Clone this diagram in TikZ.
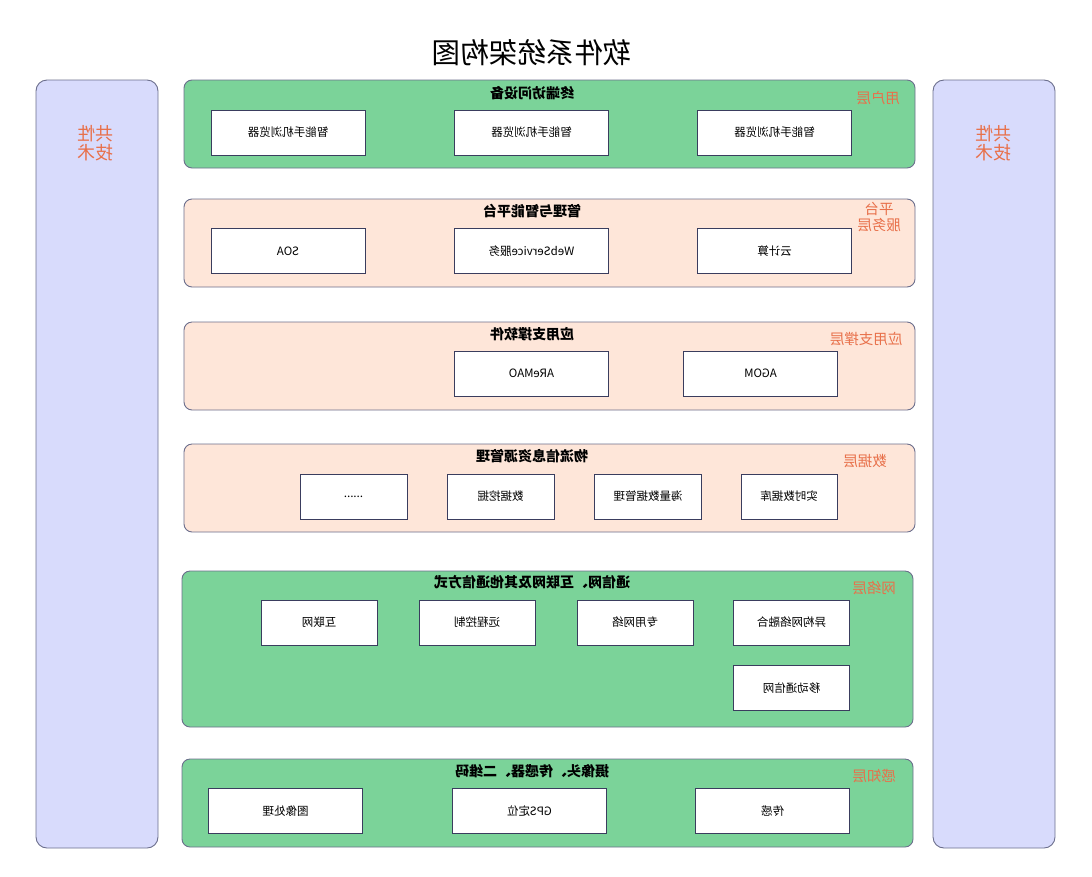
\documentclass[tikz,border=0pt]{standalone}
\usepackage{fontspec}
\setmainfont{Noto Sans CJK SC}
\usetikzlibrary{positioning}
\definecolor{laygreen}{HTML}{7BD399}
\definecolor{laypeach}{HTML}{FEE6D9}
\definecolor{sidelav}{HTML}{D8DBFC}
\definecolor{layline}{HTML}{6B6E8C}
\definecolor{itemline}{HTML}{3A3D5E}
\definecolor{tagorange}{HTML}{E8704A}

\begin{document}
\begin{tikzpicture}[x=1pt,y=-1pt,
    flip/.style={xscale=-1},
    layer/.style={draw=layline,line width=0.9pt,rounded corners=8pt},
    side/.style={draw=layline,line width=0.9pt,rounded corners=11pt,fill=sidelav},
    head/.style={flip,font=\fontsize{14}{16}\selectfont\bfseries},
    tag/.style={flip,text=tagorange,align=center,font=\fontsize{14.5}{16}\selectfont},
    item/.style={flip,draw=itemline,fill=white,line width=0.9pt,inner sep=0pt,
      minimum width=154,minimum height=45,font=\fontsize{11.5}{13}\selectfont}]
    \useasboundingbox (0,0) rectangle (1092,876);
    \node[flip,font=\fontsize{28.5}{31}\selectfont] (title) at (532,53) {软件系统架构图};
    % side columns
    \draw[side] (36,80) rectangle (158,848);
    \draw[side] (933,80) rectangle (1055,848);
    \node[tag,font=\fontsize{18}{19}\selectfont] (leftside) at (95,143) {共性\\技术};
    \node[tag,font=\fontsize{18}{19}\selectfont] (rightside) at (993,143) {共性\\技术};
    % user layer
    \draw[layer,fill=laygreen] (184,80) rectangle (915,168);
    \node[head] (userhead) at (532,93) {终端访问设备};
    \node[tag] (usertag) at (878,98) {用户层};
    \node[item] (phone1) at (288,132.5) {智能手机浏览器};
    \node[item] (phone2) at (531.5,132.5) {智能手机浏览器};
    \node[item] (phone3) at (774.5,132.5) {智能手机浏览器};
    % platform layer
    \draw[layer,fill=laypeach] (184,199) rectangle (915,287);
    \node[head] (plathead) at (532,211) {管理与智能平台};
    \node[tag] (plattag) at (879,217) {平台\\服务层};
    \node[item] (soa) at (288,251) {SOA};
    \node[item] (websvc) at (531.5,251) {WebService服务};
    \node[item] (cloud) at (774.5,251) {云计算};
    % support layer
    \draw[layer,fill=laypeach] (184,322) rectangle (915,410);
    \node[head] (apphead) at (532,334) {应用支撑软件};
    \node[tag] (apptag) at (866,339) {应用支撑层};
    \node[item] (aremao) at (531.5,373.5) {AReMAO};
    \node[item] (agom) at (760.5,373.5) {AGOM};
    % data layer
    \draw[layer,fill=laypeach] (184,444) rectangle (915,532);
    \node[head] (datahead) at (532,456) {物流信息资源管理};
    \node[tag] (datatag) at (865,461) {数据层};
    \node[item,minimum width=107] (dots) at (353.5,496.5) {......};
    \node[item,minimum width=107] (mining) at (500.5,496.5) {数据挖掘};
    \node[item,minimum width=107] (massive) at (648,496.5) {海量数据管理};
    \node[item,minimum width=96] (realtime) at (789,496.5) {实时数据库};
    % network layer
    \draw[layer,fill=laygreen] (182,571) rectangle (913,727);
    \node[head] (nethead) at (532,582) {通信网、互联网及其他通信方式};
    \node[tag] (nettag) at (874,588) {网络层};
    \node[item,minimum width=116] (internet) at (319,622.5) {互联网};
    \node[item,minimum width=116] (remote) at (477,622.5) {远程控制};
    \node[item,minimum width=116] (private) at (635,622.5) {专用网络};
    \node[item,minimum width=116] (hetero) at (791.5,622.5) {异构网络融合};
    \node[item,minimum width=116] (mobile) at (791.5,688) {移动通信网};
    % sensing layer
    \draw[layer,fill=laygreen] (182,759) rectangle (913,847);
    \node[head] (senshead) at (532,771) {摄像头、传感器、二维码};
    \node[tag] (senstag) at (874,776) {感知层};
    \node[item] (image) at (285.5,811) {图像处理};
    \node[item] (gps) at (529.5,811) {GPS定位};
    \node[item] (sensor) at (772.5,811) {传感};
\end{tikzpicture}
\end{document}
